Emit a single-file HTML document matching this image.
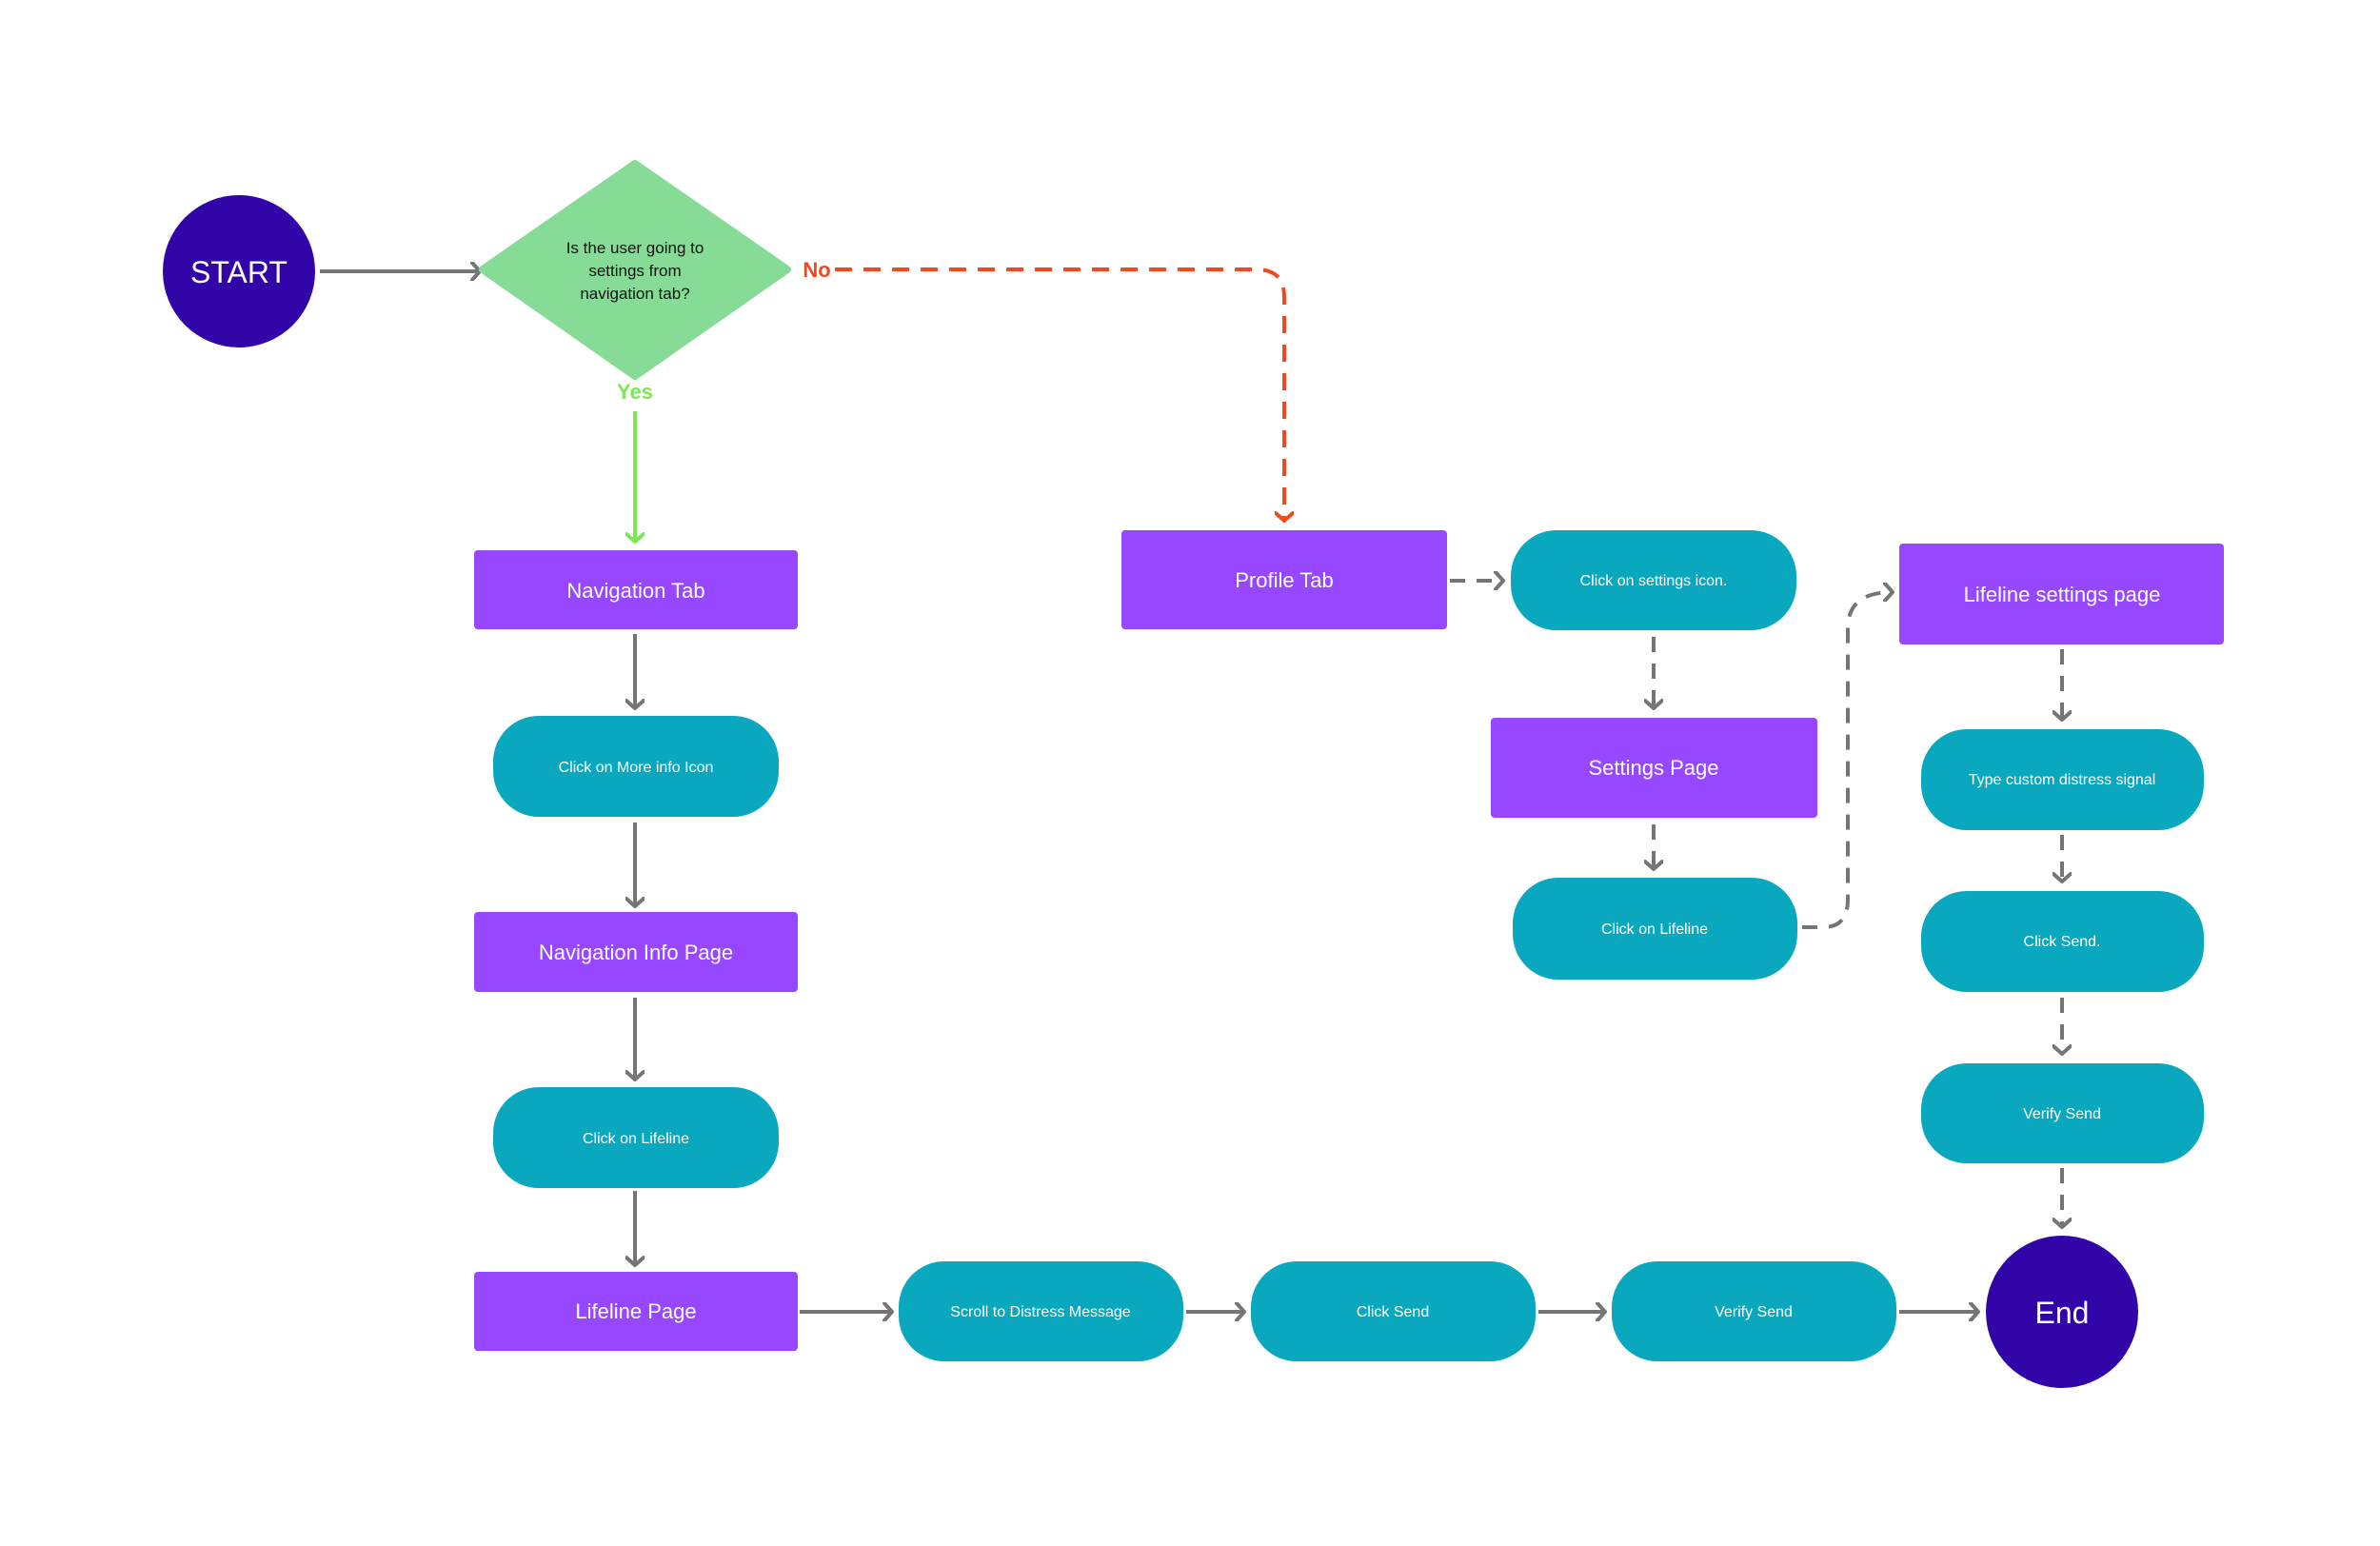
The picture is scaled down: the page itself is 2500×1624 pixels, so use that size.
<!DOCTYPE html>
<html><head><meta charset="utf-8"><style>html,body{margin:0;padding:0;background:#fff}svg{display:block}</style></head>
<body>
<svg width="2500" height="1624" viewBox="0 0 2500 1624" xmlns="http://www.w3.org/2000/svg" font-family="Liberation Sans, sans-serif">
<rect width="2500" height="1624" fill="#fff"/>
<defs>
<marker id="ag" markerWidth="20" markerHeight="20" refX="10" refY="10" orient="auto" markerUnits="userSpaceOnUse"><path d="M2,1 L10,10 L2,19" fill="none" stroke="#757575" stroke-width="4" stroke-linecap="round" stroke-linejoin="round"/></marker>
<marker id="ar" markerWidth="20" markerHeight="20" refX="10" refY="10" orient="auto" markerUnits="userSpaceOnUse"><path d="M2,1 L10,10 L2,19" fill="none" stroke="#F24822" stroke-width="4" stroke-linecap="round" stroke-linejoin="round"/></marker>
<marker id="ay" markerWidth="20" markerHeight="20" refX="10" refY="10" orient="auto" markerUnits="userSpaceOnUse"><path d="M2,1 L10,10 L2,19" fill="none" stroke="#7BE858" stroke-width="4" stroke-linecap="round" stroke-linejoin="round"/></marker>
</defs>
<g fill="none" stroke="#757575" stroke-width="4">
<line x1="336" y1="285" x2="504" y2="285" marker-end="url(#ag)"/>
<line x1="667" y1="666" x2="667" y2="744" marker-end="url(#ag)"/>
<line x1="667" y1="864" x2="667" y2="952" marker-end="url(#ag)"/>
<line x1="667" y1="1048" x2="667" y2="1134" marker-end="url(#ag)"/>
<line x1="667" y1="1251" x2="667" y2="1329" marker-end="url(#ag)"/>
<line x1="840" y1="1378" x2="937" y2="1378" marker-end="url(#ag)"/>
<line x1="1246" y1="1378" x2="1307" y2="1378" marker-end="url(#ag)"/>
<line x1="1616" y1="1378" x2="1686" y2="1378" marker-end="url(#ag)"/>
<line x1="1995" y1="1378" x2="2078" y2="1378" marker-end="url(#ag)"/>
<g stroke-dasharray="16,12">
<line x1="1523" y1="610" x2="1579" y2="610" marker-end="url(#ag)"/>
<line x1="1737" y1="669" x2="1737" y2="744" marker-end="url(#ag)"/>
<line x1="1737" y1="866" x2="1737" y2="913" marker-end="url(#ag)"/>
<path d="M1893,974 L1915,974 Q1941,974 1941,945 L1941,660 Q1941,622 1988,622" marker-end="url(#ag)"/>
<line x1="2166" y1="682" x2="2166" y2="756" marker-end="url(#ag)"/>
<line x1="2166" y1="877" x2="2166" y2="926" marker-end="url(#ag)"/>
<line x1="2166" y1="1048" x2="2166" y2="1107" marker-end="url(#ag)"/>
<line x1="2166" y1="1227" x2="2166" y2="1289" marker-end="url(#ag)"/>
</g>
</g>
<path d="M877,283 L1320,283 Q1349,283 1349,312 L1349,547" fill="none" stroke="#F24822" stroke-width="4" stroke-dasharray="18,12" marker-end="url(#ar)"/>
<line x1="667" y1="432" x2="667" y2="569" stroke="#7BE858" stroke-width="4" marker-end="url(#ay)"/>
<circle cx="251" cy="285" r="80" fill="#3205A8"/>
<text x="251" y="297" font-size="32" fill="#fff" text-anchor="middle">START</text>
<circle cx="2166" cy="1378" r="80" fill="#3205A8"/>
<text x="2166" y="1390" font-size="32" fill="#fff" text-anchor="middle">End</text>
<path d="M667,172 L827,283 L667,395 L507,283 Z" fill="#86DC96" stroke="#86DC96" stroke-width="8" stroke-linejoin="round"/>
<g font-size="17" fill="#111" text-anchor="middle"><text x="667" y="266">Is the user going to</text><text x="667" y="290">settings from</text><text x="667" y="314">navigation tab?</text></g>
<text x="858" y="291" font-size="22" font-weight="bold" fill="#F24822" text-anchor="middle">No</text>
<text x="667" y="419" font-size="22" font-weight="bold" fill="#7BE858" text-anchor="middle">Yes</text>
<g fill="#9747FF">
<rect x="498" y="578" width="340" height="83" rx="4"/>
<rect x="498" y="958" width="340" height="84" rx="4"/>
<rect x="498" y="1336" width="340" height="83" rx="4"/>
<rect x="1178" y="557" width="342" height="104" rx="4"/>
<rect x="1566" y="754" width="343" height="105" rx="4"/>
<rect x="1995" y="571" width="341" height="106" rx="4"/>
</g>
<g fill="#0AA8BE">
<rect x="518" y="752" width="300" height="106" rx="48"/>
<rect x="518" y="1142" width="300" height="106" rx="48"/>
<rect x="944" y="1325" width="299" height="105" rx="48"/>
<rect x="1314" y="1325" width="299" height="105" rx="48"/>
<rect x="1693" y="1325" width="299" height="105" rx="48"/>
<rect x="1587" y="557" width="300" height="105" rx="48"/>
<rect x="1589" y="922" width="299" height="107" rx="48"/>
<rect x="2018" y="766" width="297" height="106" rx="48"/>
<rect x="2018" y="936" width="297" height="106" rx="48"/>
<rect x="2018" y="1117" width="297" height="105" rx="48"/>
</g>
<g fill="#fff" text-anchor="middle" font-size="22">
<text x="668" y="628">Navigation Tab</text>
<text x="668" y="1008">Navigation Info Page</text>
<text x="668" y="1385">Lifeline Page</text>
<text x="1349" y="617">Profile Tab</text>
<text x="1737" y="814">Settings Page</text>
<text x="2166" y="632">Lifeline settings page</text>
</g>
<g fill="#fff" text-anchor="middle" font-size="16">
<text x="668" y="811">Click on More info Icon</text>
<text x="668" y="1201">Click on Lifeline</text>
<text x="1093" y="1383">Scroll to Distress Message</text>
<text x="1463" y="1383">Click Send</text>
<text x="1842" y="1383">Verify Send</text>
<text x="1737" y="615">Click on settings icon.</text>
<text x="1738" y="981">Click on Lifeline</text>
<text x="2166" y="824">Type custom distress signal</text>
<text x="2166" y="994">Click Send.</text>
<text x="2166" y="1175">Verify Send</text>
</g>
</svg>
</body></html>
